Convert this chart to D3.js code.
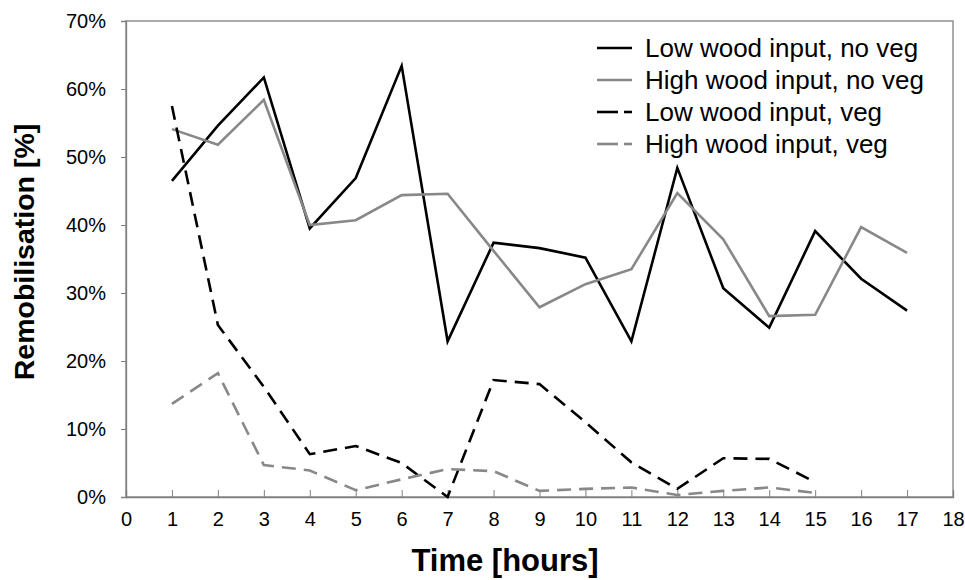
<!DOCTYPE html>
<html><head><meta charset="utf-8">
<script src="https://cdn.jsdelivr.net/npm/d3@7"></script>
<style>body{margin:0;background:#fff}svg{display:block}text{font-family:"Liberation Sans",Arial,sans-serif}</style>
</head><body><svg id="c" width="965" height="580"></svg>
<script>
const hours = d3.range(1, 18);
const lowNoVeg  = [46.5,54.6,61.7,39.5,46.9,63.4,22.9,37.4,36.6,35.2,22.9,48.4,30.7,24.9,39.1,32.1,27.4];
const highNoVeg = [54.1,51.8,58.4,40.0,40.7,44.4,44.6,36.2,27.9,31.3,33.5,44.7,37.9,26.6,26.8,39.7,35.9];
const lowVeg    = [57.5,25.3,16.2,6.3,7.5,5.0,0.0,17.2,16.6,11.0,5.1,1.2,5.7,5.6,2.2];
const highVeg   = [13.7,18.2,4.7,3.9,1.0,2.6,4.1,3.8,0.9,1.2,1.4,0.3,0.9,1.4,0.6];
const seriesNames = ["Low wood input, no veg","High wood input, no veg","Low wood input, veg","High wood input, veg"];
const xTicks = d3.range(0, 19);
const yTicks = [0,10,20,30,40,50,60,70];

const svg = d3.select("#c");
const L=126, R=953, T=21, B=497;
const x = d3.scaleLinear().domain([0,18]).range([L,R]);
const y = d3.scaleLinear().domain([0,70]).range([B,T]);

// frame
svg.append("rect").attr("x",L).attr("y",T).attr("width",R-L).attr("height",B-T)
  .attr("fill","none").attr("stroke","#808080").attr("stroke-width",1.3);

// x axis
const xa = svg.append("g").attr("transform",`translate(0,${B})`)
  .call(d3.axisBottom(x).tickValues(xTicks).tickSize(-7).tickPadding(15).tickFormat(d3.format("d")));
xa.select(".domain").attr("stroke","#808080").attr("stroke-width",1.3);
xa.selectAll(".tick line").attr("stroke","#808080");
xa.selectAll(".tick text").attr("font-size",20).attr("fill","#000");

// y axis
const ya = svg.append("g").attr("transform",`translate(${L},0)`)
  .call(d3.axisLeft(y).tickValues(yTicks).tickSize(5).tickPadding(15).tickFormat(d=>d+"%"));
ya.select(".domain").attr("stroke","#808080").attr("stroke-width",1.3);
ya.selectAll(".tick line").attr("stroke","#808080");
ya.selectAll("text").attr("font-size",20).attr("fill","#000");

const line = d3.line().x((d,i)=>x(hours[i])).y(d=>y(d));
const defs = [
  {v:lowNoVeg, c:"#000", dash:null},
  {v:highNoVeg, c:"#888", dash:null},
  {v:lowVeg, c:"#000", dash:"14,8"},
  {v:highVeg, c:"#888", dash:"14,8"}
];
defs.forEach(s=>{
  svg.append("path").datum(s.v).attr("d",line).attr("fill","none")
    .attr("stroke",s.c).attr("stroke-width",2.6).attr("stroke-dasharray",s.dash);
});

// legend
const lg = svg.append("g");
const rowsY=[48,80,112,144];
seriesNames.forEach((n,i)=>{
  const s=defs[i];
  if(s.dash){
    lg.append("line").attr("x1",597).attr("x2",618).attr("y1",rowsY[i]).attr("y2",rowsY[i]).attr("stroke",s.c).attr("stroke-width",2.6);
    lg.append("line").attr("x1",624).attr("x2",632).attr("y1",rowsY[i]).attr("y2",rowsY[i]).attr("stroke",s.c).attr("stroke-width",2.6);
  } else {
    lg.append("line").attr("x1",597).attr("x2",632).attr("y1",rowsY[i]).attr("y2",rowsY[i]).attr("stroke",s.c).attr("stroke-width",2.6);
  }
  lg.append("text").attr("x",645).attr("y",rowsY[i]).attr("dy","0.36em").attr("font-size",26).text(n);
});

// titles
svg.append("text").attr("x",505).attr("y",571).attr("text-anchor","middle")
  .attr("font-size",31).attr("font-weight","bold").text("Time [hours]");
svg.append("text").attr("transform",`translate(34,252) rotate(-90)`).attr("text-anchor","middle")
  .attr("font-size",28.5).attr("font-weight","bold").text("Remobilisation [%]");
</script></body></html>
